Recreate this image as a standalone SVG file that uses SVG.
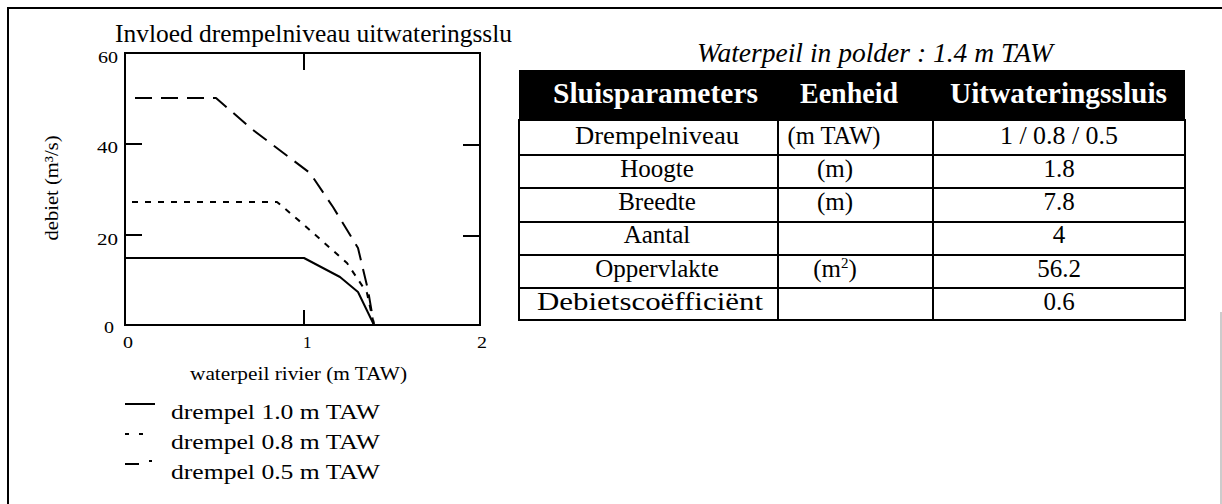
<svg xmlns="http://www.w3.org/2000/svg" width="1222" height="504" viewBox="0 0 1222 504">
<style>
.t{font-family:"Liberation Serif","Times New Roman",serif;fill:#000}
.ax{fill:none;stroke:#000;stroke-width:2}
.cv{fill:none;stroke:#000;stroke-width:2;stroke-linejoin:round}
.tb{fill:none;stroke:#000;stroke-width:2}
.c1{text-anchor:middle;font-size:25px}
.hd{font-family:"Liberation Serif","Times New Roman",serif;font-weight:bold;font-size:29px;fill:#fff}
</style>
<rect width="1222" height="504" fill="#fff"/>
<g id="frame">
<path d="M8,504 L8,8 L1222,8" fill="none" stroke="#000" stroke-width="2"/>
<line x1="1221" y1="312" x2="1221" y2="504" stroke="#999" stroke-width="1"/>
</g>
<g id="chart">
<text class="t" x="115" y="42" font-size="26" textLength="397" lengthAdjust="spacingAndGlyphs">Invloed drempelniveau uitwateringsslu</text>
<rect class="ax" x="125" y="53" width="355" height="272"/>
<path class="ax" d="M304,53 V70 M304,325 V310 M125,144 H142 M125,235 H142 M480,145 H463 M480,236 H463"/>
<g class="t" font-size="17">
<text x="98" y="63" textLength="20" lengthAdjust="spacingAndGlyphs">60</text>
<text x="97" y="153" textLength="21" lengthAdjust="spacingAndGlyphs">40</text>
<text x="97" y="245" textLength="21" lengthAdjust="spacingAndGlyphs">20</text>
<text x="104" y="333" textLength="10" lengthAdjust="spacingAndGlyphs">0</text>
<text x="123" y="348" textLength="10" lengthAdjust="spacingAndGlyphs">0</text>
<text x="303" y="348">1</text>
<text x="477" y="348" textLength="10" lengthAdjust="spacingAndGlyphs">2</text>
</g>
<text class="t" font-size="19" text-anchor="middle" transform="translate(58,188) rotate(-90)" textLength="105" lengthAdjust="spacingAndGlyphs">debiet (m³/s)</text>
<text class="t" x="190" y="380" font-size="18" textLength="217" lengthAdjust="spacingAndGlyphs">waterpeil rivier (m TAW)</text>
<path id="curve-1-0" class="cv" d="M125,258 L304,258 L340,277 L358,292 L374,325"/>
<path id="curve-0-8" class="cv" stroke-dasharray="6,7" d="M132,202 L277,202 L303,224 L347,263 L367,293 L374,325"/>
<path id="curve-0-5" class="cv" stroke-dasharray="17,9" d="M135,98 L216,98 L253,130 L310,173 L333,207 L358,248 L368,290 L374,325"/>
<g id="legend">
<line x1="125" y1="404" x2="155" y2="404" stroke="#000" stroke-width="2"/>
<path d="M125,434 H129 M139,434 H143" stroke="#000" stroke-width="2"/>
<path d="M125,464 H139 M149,461 H152" stroke="#000" stroke-width="2"/>
<g class="t" font-size="22">
<text x="171" y="419" textLength="209" lengthAdjust="spacingAndGlyphs">drempel 1.0 m TAW</text>
<text x="171" y="449" textLength="209" lengthAdjust="spacingAndGlyphs">drempel 0.8 m TAW</text>
<text x="171" y="479" textLength="209" lengthAdjust="spacingAndGlyphs">drempel 0.5 m TAW</text>
</g>
</g>
</g>
<g id="table">
<text class="t" x="697" y="62" font-size="27" font-style="italic" textLength="356" lengthAdjust="spacingAndGlyphs">Waterpeil in polder : 1.4 m TAW</text>
<rect x="519" y="70" width="666" height="50" fill="#000"/>
<text class="hd" x="553" y="103" textLength="205" lengthAdjust="spacingAndGlyphs">Sluisparameters</text>
<text class="hd" x="800" y="103" textLength="98" lengthAdjust="spacingAndGlyphs">Eenheid</text>
<text class="hd" x="950" y="103" textLength="217" lengthAdjust="spacingAndGlyphs">Uitwateringssluis</text>
<rect class="tb" x="519" y="120" width="666" height="200"/>
<path class="tb" d="M519,155 H1185 M519,188 H1185 M519,222 H1185 M519,255 H1185 M519,288 H1185 M778,120 V320 M933,120 V320"/>
<g class="t c1">
<text x="657" y="144" textLength="164" lengthAdjust="spacingAndGlyphs">Drempelniveau</text>
<text x="657" y="177">Hoogte</text>
<text x="657" y="210">Breedte</text>
<text x="657" y="243">Aantal</text>
<text x="657" y="277">Oppervlakte</text>
<text x="650" y="310" font-size="26" textLength="226" lengthAdjust="spacingAndGlyphs">Debietscoëfficiënt</text>
<text x="834" y="144" textLength="93" lengthAdjust="spacingAndGlyphs">(m TAW)</text>
<text x="835" y="177">(m)</text>
<text x="835" y="210">(m)</text>
<text x="835" y="277">(m<tspan dy="-9" font-size="15">2</tspan><tspan dy="9">)</tspan></text>
<text x="1059" y="144" textLength="118" lengthAdjust="spacingAndGlyphs">1 / 0.8 / 0.5</text>
<text x="1059" y="177">1.8</text>
<text x="1059" y="210">7.8</text>
<text x="1059" y="243">4</text>
<text x="1059" y="277">56.2</text>
<text x="1059" y="310">0.6</text>
</g>
</g>
</svg>
